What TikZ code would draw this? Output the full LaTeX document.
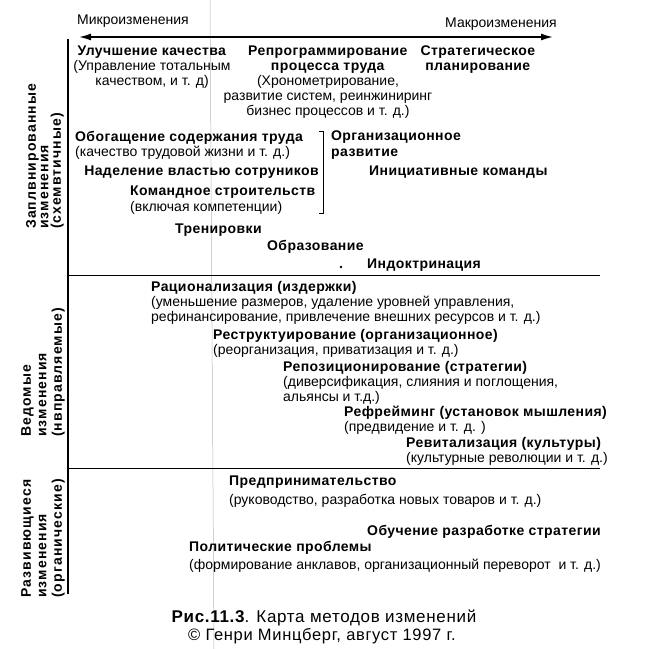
\documentclass[tikz,border=0pt]{standalone}
\usepackage{fontspec}
\setmainfont{Liberation Sans}[BoldFeatures={LetterSpace=3}]
\newfontfamily\sidefont[LetterSpace=8]{Liberation Sans}
\newfontfamily\capfont[LetterSpace=4]{Liberation Sans}
\usetikzlibrary{arrows.meta, positioning}

\tikzset{
  entry/.style={inner sep=0pt, align=left, anchor=north west, font=\fontsize{14}{15.2}\selectfont},
  centry/.style={inner sep=0pt, align=center, anchor=north, font=\fontsize{14}{14.8}\selectfont},
  head/.style={inner sep=0pt, anchor=west, font=\fontsize{14}{15}\selectfont\bfseries},
  side/.style={rotate=90, inner sep=0pt, align=left, anchor=north west, font=\fontsize{14}{15.5}\selectfont\sidefont\bfseries},
  capt/.style={inner sep=0pt, font=\fontsize{17}{18}\selectfont\capfont},
}

\begin{document}
\begin{tikzpicture}[x=1pt, y=-1pt]
  \useasboundingbox (0,0) rectangle (646,649);

  % scan line
  \draw[gray!55, line width=0.5pt] (210,0) -- (214,649);

  % Axes
  \coordinate (axtop) at (68,39);
  \coordinate (axbot) at (68,594);
  \coordinate (sepa) at (68,275);
  \coordinate (sepaend) at (600,275);
  \coordinate (sepb) at (68,468);
  \coordinate (sepbend) at (600,468);
  \coordinate (microend) at (79,37);
  \coordinate (macroend) at (553,37);
  \draw[line width=1.2pt] (axtop) -- (axbot);
  \draw[line width=1pt] (sepa) -- (sepaend);
  \draw[line width=1pt] (sepb) -- (sepbend);
  \draw[line width=1.6pt, {Latex[length=12pt,width=7pt]}-{Latex[length=12pt,width=7pt]}] (microend) -- (macroend);

  \node[head, font=\fontsize{14}{15}\selectfont] (micro) at (77,21) {Микроизменения};
  \node[head, anchor=east, font=\fontsize{14}{15}\selectfont] (macro) at (557,24) {Макроизменения};

  % side labels
  \node[side, font=\fontsize{14}{12.5}\selectfont\sidefont\bfseries] (planned) at (26,229) {Заплвнированные\\изменения\\(схемвтичные)};
  \node[side] (driven) at (21,437) {Ведомые\\изменения\\(нвправляемые)};
  \node[side] (emergent) at (21,598) {Развивющиеся\\изменения\\(органические)};

  % planned changes
  \node[centry] (quality) at (152,46) {\textbf{Улучшение качества}\\(Управление тотальным\\качеством, и т. д)};
  \node[centry] (reprog) at (328,46) {\textbf{Репрограммирование}\\\textbf{процесса труда}\\(Хронометрирование,\\развитие систем, реинжиниринг\\бизнес процессов и т. д.)};
  \node[centry] (stratplan) at (478,46) {\textbf{Стратегическое}\\\textbf{планирование}};
  \node[entry] (enrich) at (75,131) {\textbf{Обогащение содержания труда}\\(качество трудовой жизни и т. д.)};
  \node[head, anchor=east] (empower) at (319,172) {Наделение властью сотруников};
  \node[entry] (teambuild) at (130,186) {\textbf{Командное строительств}\\(включая компетенции)};
  \coordinate (brtop) at (323,131);
  \coordinate (brbot) at (323,213);
  \draw[line width=0.8pt] (brtop) ++(-4,0) -- (brtop) -- (brbot) -- ++(-4,0);
  \node[entry] (orgdev) at (331,131) {\textbf{Организационное}\\\textbf{развитие}};
  \node[head] (initiative) at (369,172) {Инициативные команды};
  \node[head] (training) at (175,230) {Тренировки};
  \node[head] (education) at (267,247) {Образование};
  \node[circle, fill, inner sep=0.9pt] (dot) at (341,267) {};
  \node[head] (indoctr) at (367,265) {Индоктринация};

  % driven changes
  \node[entry] (ration) at (151,281) {\textbf{Рационализация (издержки)}\\(уменьшение размеров, удаление уровней управления,\\рефинансирование, привлечение внешних ресурсов и т. д.)};
  \node[entry] (restruct) at (213,329) {\textbf{Реструктуирование (организационное)}\\(реорганизация, приватизация и т. д.)};
  \node[entry] (repos) at (283,361) {\textbf{Репозиционирование (стратегии)}\\(диверсификация, слияния и поглощения,\\альянсы и т.д.)};
  \node[entry] (reframe) at (344,406) {\textbf{Рефрейминг (установок мышления)}\\(предвидение и т. д. )};
  \node[entry] (revital) at (406,437) {\textbf{Ревитализация (культуры)}\\(культурные революции и т. д.)};

  % emergent changes
  \node[entry] (entrepr) at (229,476) {\textbf{Предпринимательство}\\[3pt](руководство, разработка новых товаров и т. д.)};
  \node[head] (stratlearn) at (367,532) {Обучение разработке стратегии};
  \node[entry] (politics) at (189,541) {\textbf{Политические проблемы}\\[3pt](формирование анклавов, организационный переворот\ \ и т. д.)};

  % caption
  \node[capt] (caption) at (324,618) {{\bfseries Рис.11.3}. Карта методов изменений};
  \node[capt, font=\fontsize{16.5}{18}\selectfont\capfont] (credit) at (322,636) {© Генри Минцберг, август 1997 г.};
\end{tikzpicture}
\end{document}
